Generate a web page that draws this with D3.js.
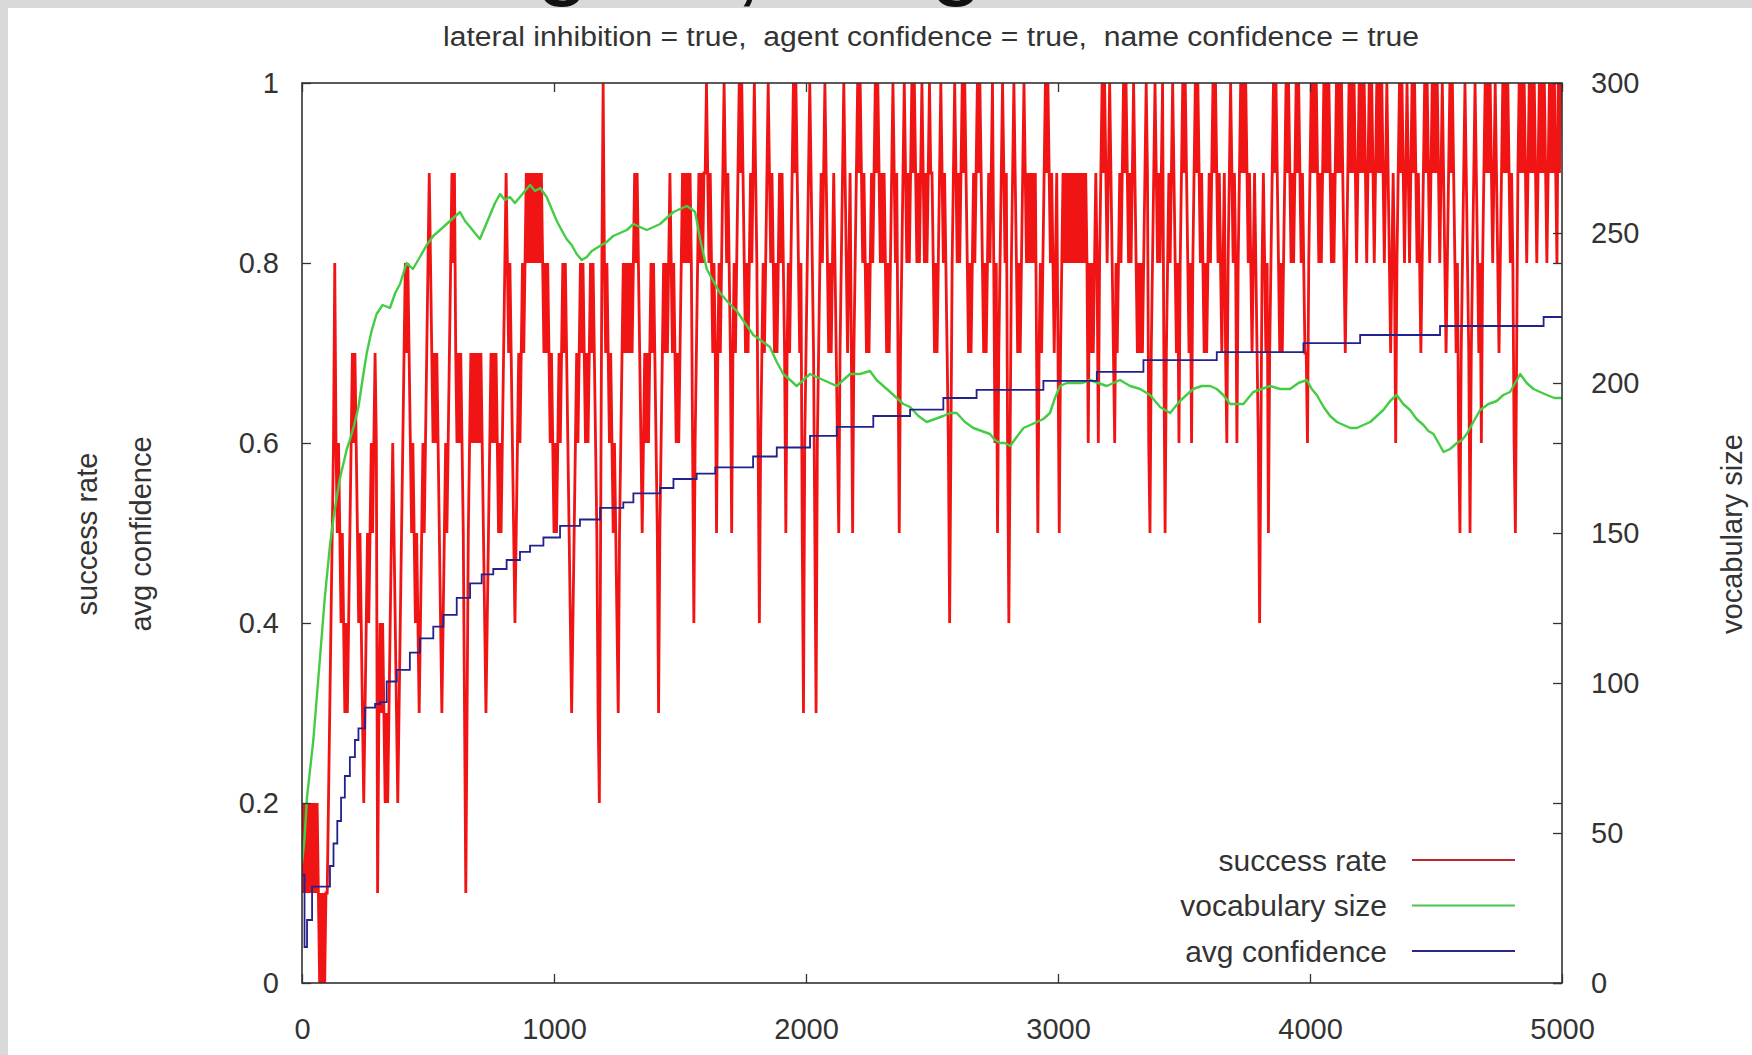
<!DOCTYPE html>
<html>
<head>
<meta charset="utf-8">
<script src="https://cdn.jsdelivr.net/npm/d3@7"></script>
<style>
  body { margin: 0; background: #fff; }
  svg { display: block; font-family: "Liberation Sans", Arial, sans-serif; }
  .title { white-space: pre; }
</style>
</head>
<body>
<svg id="chart" width="1752" height="1055"></svg>
<script>
// DATA
// success rate, sampled every 5 games, in tenths (one row = 100 games)
const successStep = 5;
const successRate = [
  2,1,2,1,2,1,2,1,2,1,2,1,2,1,0,1,0,1,0,1,
  1,2,3,4,5,6,8,6,5,6,5,4,5,4,3,4,3,4,5,6,
  7,6,7,6,5,4,5,4,3,2,3,4,5,4,5,6,5,6,7,6,
  1,3,4,3,4,3,2,3,2,3,4,5,6,5,4,3,2,3,4,5,
  6,7,8,7,8,7,6,5,6,5,4,5,4,3,4,5,6,5,6,7,
  8,9,8,7,6,7,6,7,6,5,4,3,4,5,6,5,6,7,8,9,
  8,9,7,6,7,6,7,6,5,3,1,3,5,6,7,6,7,6,7,6,
  7,6,7,6,5,4,3,4,5,6,7,6,7,6,7,6,5,6,5,6,
  7,8,9,8,7,8,7,6,5,4,5,6,7,6,7,8,7,8,9,8,
  9,8,9,8,9,8,9,8,9,8,9,8,7,8,7,8,7,6,7,6,
  5,6,5,6,7,6,7,8,7,8,7,6,5,4,3,4,5,6,7,6,
  7,8,7,8,7,6,7,6,7,8,7,8,7,6,5,3,2,5,8,10,
  8,7,8,7,6,7,6,5,6,5,4,3,5,6,7,8,7,8,7,8,
  7,8,7,8,9,8,9,8,7,6,5,6,7,6,7,6,7,8,7,8,
  7,6,5,3,5,6,7,8,7,8,7,8,9,8,7,8,7,6,7,6,
  7,8,9,8,9,8,9,8,9,8,6,4,6,7,8,9,8,9,8,9,
  9,10,9,8,9,8,7,8,7,5,7,8,7,8,9,10,9,8,9,8,
  7,5,7,8,7,8,9,10,9,10,9,8,7,8,7,8,9,8,9,10,
  9,8,6,4,6,7,8,7,8,9,10,9,8,9,8,7,8,7,8,9,
  8,9,8,7,5,7,8,7,8,9,10,9,10,9,8,7,8,5,3,6,
  7,8,9,10,9,8,7,5,3,6,7,8,9,8,9,10,9,8,7,8,
  7,8,9,8,7,6,5,7,8,9,10,9,8,7,8,9,7,5,7,8,
  9,10,9,10,9,8,9,8,7,8,7,8,9,8,9,10,9,10,9,8,
  9,8,9,8,7,8,7,8,9,10,9,8,9,7,5,7,8,9,10,9,
  8,9,8,9,10,9,10,9,8,9,8,9,10,9,8,9,8,9,10,9,
  9,8,7,8,7,8,9,10,9,8,9,8,7,6,4,6,8,9,10,9,
  8,9,8,9,10,9,10,9,8,7,8,7,8,9,8,9,10,9,10,9,
  8,7,8,7,8,9,8,9,10,8,6,8,5,7,8,9,10,9,8,9,
  6,4,6,8,9,10,9,8,7,8,7,8,9,10,9,8,9,8,9,8,
  9,8,9,7,5,7,8,7,8,9,10,9,10,9,8,9,8,7,8,9,
  7,5,7,8,9,8,9,8,9,8,9,8,9,8,9,8,9,8,9,8,
  9,8,9,8,6,8,7,8,7,8,9,8,6,8,9,10,9,10,9,8,
  9,10,9,8,7,6,8,7,8,9,8,9,10,9,10,9,8,9,8,9,
  10,9,8,7,8,7,8,7,8,9,10,9,6,5,7,8,9,10,9,8,
  9,8,9,10,7,5,7,8,9,8,9,10,9,8,7,8,6,8,9,10,
  9,10,9,8,7,8,6,8,9,10,9,10,9,8,9,8,7,8,7,8,
  9,8,9,10,9,10,9,8,9,8,7,8,9,7,6,8,9,10,9,8,
  9,8,6,8,9,10,9,10,9,10,9,8,9,8,7,8,9,8,7,6,
  4,6,8,9,8,7,8,5,7,8,9,10,9,10,9,8,7,8,7,8,
  9,10,9,10,9,8,9,8,9,10,9,10,9,8,9,8,7,7,6,8,
  9,10,9,10,9,10,9,8,9,8,9,10,9,10,9,10,9,8,9,8,
  9,10,9,10,9,10,9,8,7,8,9,10,9,10,9,10,9,8,9,10,
  9,10,9,10,9,8,9,10,9,10,9,8,9,10,9,10,9,10,9,8,
  9,10,9,8,7,8,9,8,6,8,9,10,9,10,9,8,9,10,9,8,
  9,10,9,10,9,8,9,8,7,8,9,10,9,10,9,8,9,10,9,10,
  9,10,9,8,9,10,9,8,7,8,9,10,9,10,9,8,7,8,6,5,
  7,8,9,10,9,8,7,5,7,8,9,10,9,8,7,8,6,8,9,10,
  9,10,9,10,9,8,9,10,9,8,7,8,9,10,9,10,9,10,9,8,
  9,8,6,5,7,9,10,9,10,9,10,9,8,9,10,9,10,9,10,9,
  8,9,10,9,10,9,10,9,8,9,10,9,10,9,10,9,8,10,9,10,
  10
];

// vocabulary size [game, size]
const vocabSize = [
  [0,40],[10,48],[20,62],[45,81],[71,108],[90,128],[111,146],[125,155],[138,162],[150,168],
  [164,173],[178,178],[190,181],[207,186],[224,192],[240,201],[257,210],[275,217],[296,223],[320,226],
  [349,225],[370,230],[389,233],[415,240],[440,238],[468,242],[495,246],[521,249],[548,251],[574,253],
  [600,255],[627,257],[647,254],[667,252],[686,250],[706,248],[726,252],[746,256],[766,260],[786,263],
  [805,261],[825,262],[845,260],[865,262],[885,264],[905,266],[925,264],[945,265],[971,262],[991,258],
  [1011,254],[1030,251],[1050,248],[1070,246],[1090,243],[1110,241],[1130,242],[1150,244],[1169,245],[1189,246],
  [1209,247],[1235,249],[1262,250],[1289,251],[1315,253],[1341,252],[1368,251],[1395,252],[1421,253],[1447,255],
  [1474,257],[1500,258],[1527,259],[1545,258],[1560,257],[1580,248],[1606,238],[1632,234],[1659,230],[1690,227],
  [1725,224],[1758,220],[1791,216],[1824,214],[1857,212],[1884,207],[1910,203],[1937,201],[1963,199],[1990,201],
  [2016,203],[2042,202],[2069,201],[2095,200],[2122,199],[2148,201],[2175,203],[2214,203],[2254,204],[2280,201],
  [2307,199],[2334,197],[2360,195],[2386,193],[2413,192],[2446,189],[2479,187],[2512,188],[2545,189],[2571,190],
  [2598,190],[2631,187],[2664,185],[2697,184],[2730,183],[2750,181],[2770,180],[2790,180],[2810,179],[2836,182],
  [2863,185],[2890,186],[2916,187],[2942,188],[2968,190],[2988,195],[3008,199],[3035,200],[3061,200],[3094,200],
  [3127,201],[3160,200],[3193,199],[3220,200],[3246,201],[3286,199],[3326,198],[3365,196],[3405,192],[3445,190],
  [3484,194],[3510,196],[3537,198],[3570,199],[3604,199],[3630,198],[3656,196],[3683,193],[3710,193],[3736,193],
  [3755,195],[3775,197],[3808,198],[3842,199],[3881,198],[3921,198],[3954,200],[3987,201],[4007,198],[4027,196],
  [4054,192],[4080,189],[4107,187],[4133,186],[4160,185],[4186,185],[4212,186],[4239,187],[4265,189],[4291,191],
  [4318,194],[4344,196],[4370,193],[4397,191],[4423,188],[4450,186],[4470,184],[4490,183],[4510,180],[4530,177],
  [4556,178],[4583,180],[4603,181],[4622,183],[4648,187],[4675,191],[4708,193],[4741,194],[4767,196],[4794,197],
  [4814,200],[4834,203],[4860,200],[4887,198],[4913,197],[4940,196],[4970,195],[5000,195]
];

// average confidence steps [game, value]
const avgConfidence = [
  [0,0.12],[10,0.04],[20,0.07],[40,0.107],[111,0.13],[125,0.155],[140,0.18],[155,0.206],[170,0.23],[190,0.251],
  [210,0.27],[224,0.283],[250,0.306],[290,0.31],[310,0.312],[336,0.335],[376,0.348],[428,0.367],[468,0.383],[521,0.396],
  [561,0.409],[614,0.428],[667,0.444],[713,0.454],[759,0.46],[812,0.47],[865,0.479],[905,0.486],[958,0.495],[1024,0.508],
  [1103,0.515],[1183,0.528],[1275,0.534],[1315,0.544],[1421,0.55],[1474,0.56],[1566,0.566],[1640,0.573],[1790,0.585],[1884,0.595],
  [2016,0.608],[2122,0.618],[2267,0.63],[2413,0.637],[2545,0.65],[2677,0.659],[2942,0.669],[3154,0.679],[3339,0.692],[3630,0.701],
  [3974,0.711],[4199,0.72],[4516,0.73],[4927,0.74],[5000,0.74]
];

const xTicks = [0, 1000, 2000, 3000, 4000, 5000];
const yTicks = [0, 0.2, 0.4, 0.6, 0.8, 1];
const y2Ticks = [0, 50, 100, 150, 200, 250, 300];
const seriesNames = ["success rate", "vocabulary size", "avg confidence"];
const subtitle = "lateral inhibition = true,  agent confidence = true,  name confidence = true";

// SETUP
const W = 1752, H = 1055;
const box = { left: 302, right: 1562, top: 83, bottom: 983 };
const colors = { success: "#f01414", vocab: "#44cc44", conf: "#22228c" };
const legendColors = ["#b8282c", "#4ec44e", "#2a2a80"];

const svg = d3.select("#chart");

const x = d3.scaleLinear().domain([0, 5000]).range([box.left, box.right]);
const y = d3.scaleLinear().domain([0, 1]).range([box.bottom, box.top]);
const y2 = d3.scaleLinear().domain([0, 300]).range([box.bottom, box.top]);

// background: grey frame around a white sheet
svg.append("rect").attr("width", W).attr("height", H).attr("fill", "#d9d9d9");
svg.append("rect").attr("x", 8).attr("y", 8).attr("width", W - 8).attr("height", H - 8).attr("fill", "#fff");

// the bottom of a big heading that is cut off at the top edge
const defs = svg.append("defs");
defs.append("clipPath").attr("id", "topBand")
  .append("rect").attr("width", W).attr("height", 8);
defs.append("clipPath").attr("id", "plotClip")
  .append("rect").attr("x", box.left).attr("y", box.top)
  .attr("width", box.right - box.left).attr("height", box.bottom - box.top);

const cut = svg.append("g").attr("clip-path", "url(#topBand)")
  .attr("font-size", 96).attr("fill", "#111");
cut.append("text").attr("x", 536).attr("y", -13).text("g");
cut.append("text").attr("x", 735).attr("y", -6).text(",");
cut.append("text").attr("x", 930).attr("y", -13).text("g");

// subtitle
svg.append("text")
  .attr("class", "title")
  .attr("x", 931).attr("y", 46)
  .attr("text-anchor", "middle")
  .attr("font-size", 27)
  .attr("fill", "#333")
  .attr("textLength", 976)
  .attr("lengthAdjust", "spacingAndGlyphs")
  .text(subtitle);

// SERIES
const plot = svg.append("g").attr("clip-path", "url(#plotClip)");

plot.append("path")
  .datum(successRate)
  .attr("fill", "none")
  .attr("stroke", colors.success)
  .attr("stroke-width", 2.8)
  .attr("d", d3.line().x((d, i) => x(i * successStep)).y(d => y(d / 10)));

plot.append("path")
  .datum(vocabSize)
  .attr("fill", "none")
  .attr("stroke", colors.vocab)
  .attr("stroke-width", 2.4)
  .attr("stroke-linejoin", "round")
  .attr("d", d3.line().x(d => x(d[0])).y(d => y2(d[1])));

plot.append("path")
  .datum(avgConfidence)
  .attr("fill", "none")
  .attr("stroke", colors.conf)
  .attr("stroke-width", 1.8)
  .attr("d", d3.line().curve(d3.curveStepAfter).x(d => x(d[0])).y(d => y(d[1])));

// AXES
const styleAxis = g => {
  g.attr("font-family", null).attr("font-size", 29).attr("color", "#333");
  g.select(".domain").remove();
  g.selectAll(".tick line").attr("stroke-width", 1.3);
};

svg.append("g")
  .attr("transform", `translate(${box.left},0)`)
  .call(d3.axisLeft(y).tickValues(yTicks).tickFormat(d3.format("")).tickSize(-9).tickPadding(23))
  .call(styleAxis);

svg.append("g")
  .attr("transform", `translate(${box.right},0)`)
  .call(d3.axisRight(y2).tickValues(y2Ticks).tickFormat(d3.format("d")).tickSize(-9).tickPadding(29))
  .call(styleAxis);

svg.append("g")
  .attr("transform", `translate(${box.right},0)`)
  .call(d3.axisRight(y).tickValues(yTicks).tickFormat("").tickSize(-9))
  .call(styleAxis);

svg.append("g")
  .attr("transform", `translate(0,${box.bottom})`)
  .call(d3.axisBottom(x).tickValues(xTicks).tickFormat(d3.format("d")).tickSize(-9).tickPadding(35))
  .call(styleAxis);

svg.append("g")
  .attr("transform", `translate(0,${box.top})`)
  .call(d3.axisTop(x).tickValues(xTicks).tickFormat("").tickSize(-9))
  .call(styleAxis);

// frame
svg.append("rect")
  .attr("x", box.left).attr("y", box.top)
  .attr("width", box.right - box.left).attr("height", box.bottom - box.top)
  .attr("fill", "none").attr("stroke", "#333").attr("stroke-width", 1.6);

// axis titles
const axisTitle = (tx, ty, label) => svg.append("text")
  .attr("transform", `translate(${tx},${ty}) rotate(-90)`)
  .attr("text-anchor", "middle")
  .attr("font-size", 29)
  .attr("fill", "#333")
  .text(label);

axisTitle(97, 534, "success rate");
axisTitle(151, 534, "avg confidence");
axisTitle(1742, 534, "vocabulary size");

// LEGEND
const legend = svg.append("g").attr("class", "legend");
const rows = legend.selectAll("g")
  .data(seriesNames)
  .enter()
  .append("g")
  .attr("transform", (d, i) => `translate(0,${860 + i * 45.5})`);

rows.append("text")
  .attr("x", 1387).attr("dy", "0.35em")
  .attr("text-anchor", "end")
  .attr("font-size", 30)
  .attr("fill", "#333")
  .text(d => d);

rows.append("line")
  .attr("x1", 1412).attr("x2", 1515)
  .attr("stroke", (d, i) => legendColors[i])
  .attr("stroke-width", 2);
</script>
</body>
</html>
